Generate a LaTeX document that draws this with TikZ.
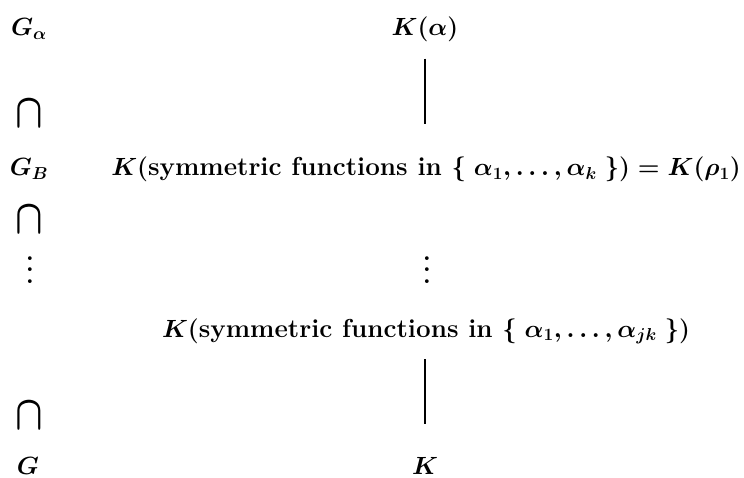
\documentclass[tikz,border=0pt]{standalone}
\usepackage{graphicx}
\tikzset{
  txt/.style={inner sep=0pt, outer sep=0pt, anchor=base, font=\fontsize{26}{31}\selectfont\bfseries\boldmath},
  incl/.style={inner sep=0pt, outer sep=0pt, anchor=center, font=\fontsize{26}{31}\selectfont\bfseries\boldmath},
  conn/.style={line width=1.2pt}
}
\newcommand{\inclsym}{\scalebox{1.45}[1.95]{$\cap$}}
\newcommand{\bigvdots}{\vbox{\baselineskip=11.5pt\lineskiplimit=-20pt\hbox{.}\hbox{.}\hbox{.}}}
\begin{document}
\begin{tikzpicture}[x=1pt,y=-1pt]
\useasboundingbox (0,0) rectangle (744,478);
\node[txt] (ga) at (29,36) {$G_\alpha$};
\node[txt] (ka) at (425,36) {$K(\alpha)$};
\node[incl] (c1) at (29,114) {\inclsym};
\node[txt] (gb) at (29,176) {$G_B$};
\node[txt] (l1) at (426,176) {$K($symmetric functions in $\{\;\alpha_1,\ldots,\alpha_k\;\})=K(\rho_1)$};
\node[incl] (c2) at (29,220) {\inclsym};
\node[incl] (d1) at (30,270) {\bigvdots};
\node[incl] (d2) at (427,270) {\bigvdots};
\node[txt] (l2) at (426,337) {$K($symmetric functions in $\{\;\alpha_1,\ldots,\alpha_{jk}\;\})$};
\node[incl] (c3) at (29,416) {\inclsym};
\node[txt] (g) at (28,474) {$G$};
\node[txt] (k) at (425,474) {$K$};
\draw[conn, shorten <=16.5pt, shorten >=33.5pt] (ka.south) -- (ka.south |- l1.north);
\draw[conn, shorten <=15pt, shorten >=33pt] (ka.south |- l2.south) -- (k.north);
\end{tikzpicture}
\end{document}
